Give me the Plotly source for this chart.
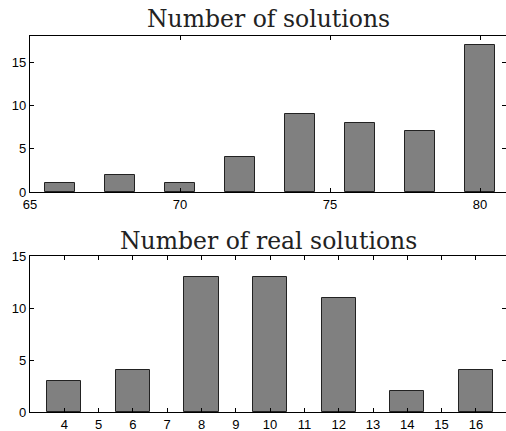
import plotly.graph_objects as go

sol_x = [66, 68, 70, 72, 74, 76, 78, 80]
sol_y = [1, 2, 1, 4, 9, 8, 7, 17]
real_x = [4, 6, 8, 10, 12, 14, 16]
real_y = [3, 4, 13, 13, 11, 2, 4]
title_top = "Number of solutions"
title_bottom = "Number of real solutions"

W, H = 506, 431
L, R = 30, 0
fig = go.Figure()
bar_style = dict(marker=dict(color="#808080", line=dict(color="#222", width=1)), width=1.0, showlegend=False)
fig.add_trace(go.Bar(x=sol_x, y=sol_y, xaxis="x", yaxis="y", **bar_style))
fig.add_trace(go.Bar(x=real_x, y=real_y, xaxis="x2", yaxis="y2", **bar_style))

axis_common = dict(showline=True, linecolor="black", linewidth=1.3, mirror="ticks", ticks="inside",
                   ticklen=4, tickcolor="black", showgrid=False, zeroline=False, automargin=False,
                   tickfont=dict(family="Liberation Sans, Arial", size=13, color="black"))
fig.update_layout(
    width=W, height=H, margin=dict(l=L, r=R, t=0, b=0, autoexpand=False),
    plot_bgcolor="white", paper_bgcolor="white", bargap=0,
    xaxis=dict(domain=[0, 1], anchor="y", range=[65, 65 + (W - L - R) / 30.0], tickvals=[65, 70, 75, 80], **axis_common),
    yaxis=dict(domain=[1 - 192 / H, 1 - 36 / H], anchor="x", range=[0, 18], tickvals=[0, 5, 10, 15], **axis_common),
    xaxis2=dict(domain=[0, 1], anchor="y2", range=[3, 3 + (W - L - R) / 34.3], tickvals=list(range(4, 17)), **axis_common),
    yaxis2=dict(domain=[1 - 412 / H, 1 - 256 / H], anchor="x2", range=[0, 15], tickvals=[0, 5, 10, 15], **axis_common),
)
tfont = dict(family="DejaVu Serif", size=23.5, color="#222")
fig.add_annotation(text=title_top, x=0.5, xref="x domain", y=1 - 19 / H, yref="paper", showarrow=False, font=tfont, yanchor="middle")
fig.add_annotation(text=title_bottom, x=0.5, xref="x2 domain", y=1 - 241 / H, yref="paper", showarrow=False, font=tfont, yanchor="middle")
fig.write_html("out.html", config={"displayModeBar": False},
               post_script="document.body.style.margin='0';document.body.style.overflow='hidden';")
